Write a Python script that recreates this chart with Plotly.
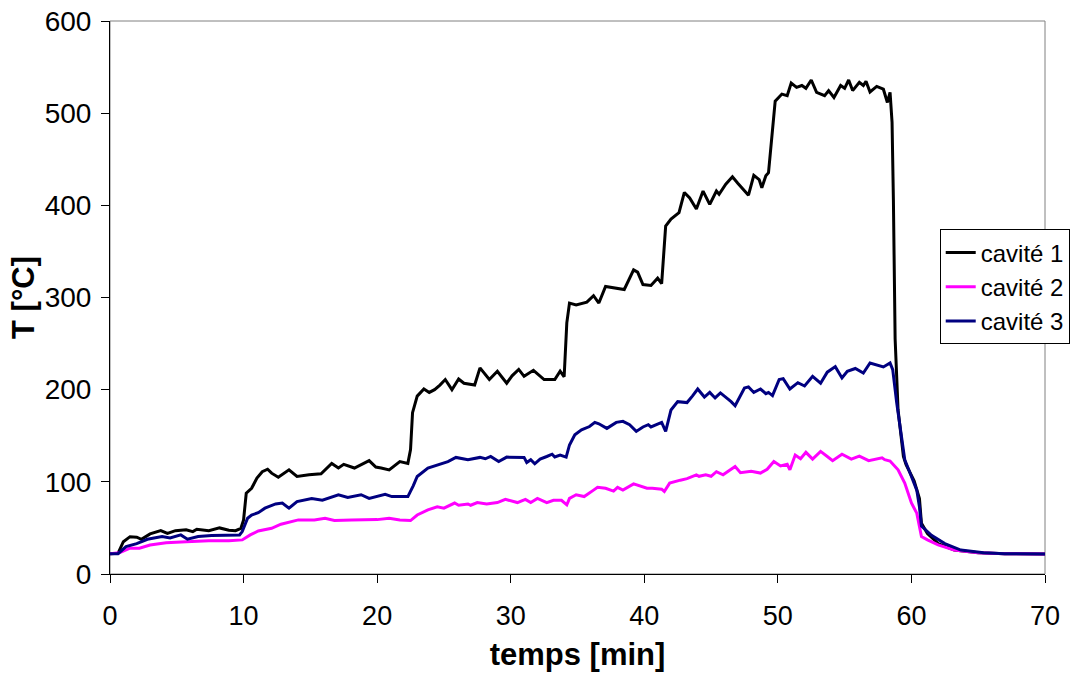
import plotly.graph_objects as go

# temps [min] / T [°C]
t_cav1 = [0.0, 0.6, 1.0, 1.5, 2.0, 2.35, 3.0, 3.8, 4.3, 4.9, 5.7, 6.2, 6.5, 7.4, 8.2, 8.9, 9.4, 9.8,
          10.0, 10.2, 10.6, 11.0, 11.4, 11.8, 12.1, 12.6, 13.4, 14.0, 14.9, 15.8, 16.6, 17.1, 17.5,
          18.3, 19.4, 19.9, 20.3, 20.9, 21.7, 22.3, 22.5, 22.65, 23.0, 23.5, 23.9, 24.3, 24.7, 25.1,
          25.6, 26.1, 26.5, 27.3, 27.7, 28.4, 29.0, 29.7, 30.1, 30.6, 31.0, 31.7, 32.5, 33.3, 33.7,
          34.0, 34.2, 34.4, 34.9, 35.7, 36.2, 36.6, 37.1, 37.7, 38.5, 39.2, 39.5, 39.9, 40.5, 41.0,
          41.3, 41.6, 42.0, 42.6, 43.0, 43.4, 43.9, 44.4, 44.9, 45.4, 45.6, 46.1, 46.6, 47.0, 47.5,
          47.8, 48.2, 48.6, 48.8, 49.1, 49.3, 49.6, 49.8, 50.3, 50.7, 51.0, 51.4, 51.8, 52.1, 52.5,
          52.9, 53.5, 53.8, 54.2, 54.7, 55.0, 55.3, 55.6, 56.1, 56.4, 56.6, 56.9, 57.4, 57.9, 58.2,
          58.4, 58.55, 58.65, 58.78, 59.0, 59.4, 59.6, 60.2, 60.6, 60.75, 61.2, 62.0, 63.2, 65.0,
          67.0, 70.0]
T_cav1 = [22, 22.5, 35, 40.5, 40, 37.7, 43.5, 47, 44, 47, 48, 46, 48.5, 47, 50, 47.5, 47, 49.6,
          58.7, 87.6, 93, 104, 111, 113.7, 109.4, 105, 113, 105.8, 107.6, 108.7, 120, 115, 119,
          115, 123, 116, 115, 113, 122, 120, 135, 175, 193, 200.7, 197, 200, 205, 211,
          200, 211.6, 207, 205, 223.6, 211, 220, 207, 215, 222, 214.5, 221, 211, 211, 220,
          214, 272.5, 294, 292, 295, 302, 294, 312, 310.5, 308.7, 330, 327.5, 314, 313, 321,
          315, 377.5, 385, 392, 414, 408, 396, 415.5, 401, 415.5, 412, 423, 431, 424, 415.5,
          411, 432.6, 428, 419, 432, 435.5, 486, 513, 520.7, 519, 532.6, 528, 530, 527, 536,
          522.5, 519, 524.5, 517, 530, 527, 536, 524.5, 533.5, 530, 534.6, 523, 529, 526, 511.6,
          522.5, 490, 406, 255, 178, 127.5, 118.5, 101, 82, 55, 44, 33, 26, 23,
          22, 21.7]

t_cav2 = [0.0, 0.7, 1.5, 2.2, 3.0, 4.2, 5.7, 7.4, 8.9, 9.9, 10.5, 11.1, 12.1, 12.8, 14.1, 15.3,
          16.1, 16.8, 18.1, 19.1, 20.0, 20.9, 21.7, 22.5, 23.0, 23.8, 24.5, 25.0, 25.8, 26.1, 26.8,
          27.0, 27.5, 28.2, 29.0, 29.6, 30.5, 31.1, 31.5, 32.0, 32.7, 33.2, 33.8, 34.2, 34.4, 34.9,
          35.5, 36.2, 36.5, 37.1, 37.7, 38.0, 38.4, 39.2, 39.7, 40.2, 40.6, 41.3, 41.5, 41.9, 42.7,
          43.2, 43.9, 44.1, 44.6, 45.0, 45.4, 45.9, 46.8, 47.2, 48.0, 48.7, 49.2, 49.7, 50.2, 50.7,
          50.9, 51.3, 51.7, 52.1, 52.6, 53.2, 53.7, 54.1, 54.8, 55.5, 56.1, 56.8, 57.8, 58.0, 58.4,
          59.0, 59.5, 60.0, 60.4, 60.75, 61.2, 62.0, 63.2, 65.0, 67.0, 70.0]
T_cav2 = [22, 23, 28, 28, 31.5, 34, 35, 36, 36, 37, 42.4, 46.7, 49.6, 54, 58.7, 58.7,
          60.5, 58, 58.7, 58.7, 59, 60.5, 58.7, 58, 64, 69.6, 73, 71.5, 77, 74.6, 76,
          74.6, 77.5, 76, 77.5, 81, 77.5, 81, 77.5, 82, 77.5, 80, 80, 75, 82, 86,
          84, 91, 94, 93, 90, 94, 91, 97.8, 95, 93, 93, 92, 89.5, 98.6, 101.8,
          103.5, 107.6, 106, 107.6, 106, 111, 107.6, 116.6, 110, 111.5, 109.5, 113.6, 122, 117.3, 119,
          113, 129, 125, 132, 124.6, 133, 127.5, 123, 130, 124.6, 128, 123, 126, 124, 122.6,
          113, 98.6, 77, 66, 40.6, 37, 31.5, 26, 23, 22, 21.7]

t_cav3 = [0.0, 0.6, 1.2, 2.0, 2.8, 3.9, 4.5, 5.3, 5.8, 6.6, 7.6, 8.7, 9.7, 9.9, 10.3, 10.6, 11.1,
          11.6, 12.4, 12.9, 13.4, 14.0, 15.1, 15.9, 16.6, 17.1, 17.8, 18.8, 19.4, 20.6, 21.1, 22.3,
          22.7, 23.0, 23.8, 24.8, 25.3, 25.9, 26.8, 27.7, 28.1, 28.5, 29.1, 29.7, 31.0, 31.2, 31.5,
          31.8, 32.2, 32.7, 33.1, 33.3, 33.7, 34.15, 34.4, 34.8, 35.3, 35.9, 36.3, 36.6, 37.2, 37.9,
          38.4, 38.9, 39.4, 39.9, 40.3, 40.5, 41.3, 41.6, 42.0, 42.5, 43.2, 43.6, 44.0, 44.5, 44.9,
          45.3, 45.7, 46.5, 46.8, 47.5, 47.8, 48.2, 48.7, 49.1, 49.3, 49.6, 50.1, 50.4, 50.9, 51.5,
          52.0, 52.6, 53.2, 53.7, 54.3, 54.8, 55.2, 55.8, 56.4, 56.9, 57.3, 57.9, 58.4, 58.6, 58.9,
          59.25, 59.5, 60.0, 60.4, 60.6, 60.75, 61.5, 62.5, 63.7, 65.4, 67.0, 70.0]
T_cav3 = [22, 22, 29.7, 33, 37.7, 40.6, 39, 42.4, 37.7, 40.6, 41.7, 42.4, 42.4, 46, 60.5, 64, 66.5,
          71.4, 76, 77, 71.4, 78.6, 82, 80, 84, 86, 83, 86, 82, 86.5, 84, 84,
          95.7, 105.8, 115, 120, 122, 126.5, 124, 126.5, 125, 127.6, 122, 126.8, 126.5, 121, 124,
          119.6, 124.6, 127.5, 130, 127, 129, 126.8, 140, 151, 156.5, 160, 164.5, 163, 158, 164.5,
          165.6, 162, 154.7, 159.5, 162, 159.5, 164.5, 154.7, 178, 187, 186, 193, 200.7, 192, 197,
          191, 196.5, 187, 182.6, 201.8, 203, 197, 200.7, 195.6, 197, 193.5, 211, 212, 200.7, 207.6,
          204, 214.5, 207, 219, 225, 212.7, 220, 223, 218, 229, 227, 224.6, 229, 221.7, 185.5,
          149, 124, 105.8, 91, 73, 52, 42, 33, 26, 23, 22, 21.7]

fnt = "Liberation Sans, Arial, sans-serif"

fig = go.Figure()
fig.add_trace(go.Scatter(x=t_cav1, y=T_cav1, mode="lines", name="cavité 1",
                         line=dict(color="#000000", width=3)))
fig.add_trace(go.Scatter(x=t_cav2, y=T_cav2, mode="lines", name="cavité 2",
                         line=dict(color="#FF00FF", width=3)))
fig.add_trace(go.Scatter(x=t_cav3, y=T_cav3, mode="lines", name="cavité 3",
                         line=dict(color="#000080", width=3)))

# cadre gris haut/droite
fig.add_shape(type="rect", xref="paper", yref="paper", x0=0, y0=0, x1=1, y1=1,
              line=dict(color="#808080", width=1), layer="below")

fig.update_layout(
    width=1082, height=676,
    margin=dict(l=110, r=31, t=21, b=102),
    paper_bgcolor="white", plot_bgcolor="white",
    font=dict(family=fnt, color="black"),
    legend=dict(x=0.8874, y=0.6230, xanchor="left", yanchor="top",
                bordercolor="black", borderwidth=1, bgcolor="white",
                font=dict(size=24, family=fnt)),
    xaxis=dict(range=[0, 70], dtick=10, ticks="outside", ticklen=8, tickcolor="black",
               showline=True, linecolor="black", linewidth=1, showgrid=False, zeroline=False,
               tickfont=dict(size=27), ticklabelstandoff=10, automargin=False,
               ticklabeloverflow="allow",
               title=dict(text="<b>temps [min]</b>", font=dict(size=31), standoff=12)),
    yaxis=dict(range=[0, 600], dtick=100, ticks="outside", ticklen=8, tickcolor="black",
               showline=True, linecolor="black", linewidth=1, showgrid=False, zeroline=False,
               tickfont=dict(size=28), ticklabelstandoff=4, automargin=False,
               ticklabeloverflow="allow",
               title=dict(text="<b>T [°C]</b>", font=dict(size=31), standoff=0)),
)

# page sans marge : la figure occupe exactement la fenêtre
fig.write_html("out.html", config=dict(displayModeBar=False),
               post_script="document.body.style.margin='0';document.body.style.overflow='hidden';")
